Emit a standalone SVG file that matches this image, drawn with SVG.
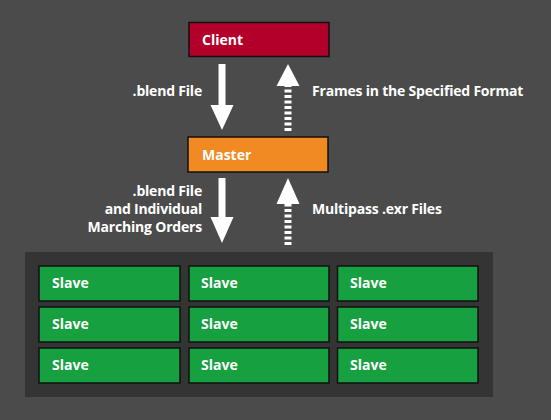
<svg xmlns="http://www.w3.org/2000/svg" width="551" height="420" viewBox="0 0 551 420">
<style>
.lbl{font-family:"Open Sans","Liberation Sans",sans-serif;font-weight:bold;font-size:14px;fill:#ffffff}
.cap{letter-spacing:-0.2px}
.box{stroke:#111111;stroke-width:1.5}
.slave{fill:#17a03f;stroke:#111111;stroke-width:1.5}
.shaft{stroke:#ffffff;stroke-width:7}
.dash{stroke:#ffffff;stroke-width:7;stroke-dasharray:3 2.5}
.head{fill:#ffffff}
</style>
<rect width="551" height="420" fill="#4b4b4b"/>
<g id="connectors">
  <line class="shaft" x1="222" y1="64" x2="222" y2="107"/>
  <polygon class="head" points="210.5,105 233.5,105 222,130"/>
  <line class="dash" x1="288" y1="131" x2="288" y2="84"/>
  <polygon class="head" points="276.5,86 299.5,86 288,64"/>
  <line class="shaft" x1="222" y1="178" x2="222" y2="219"/>
  <polygon class="head" points="210.5,217 233.5,217 222,243"/>
  <line class="dash" x1="288" y1="245" x2="288" y2="202"/>
  <polygon class="head" points="276.5,204 299.5,204 288,178"/>
  <text class="lbl cap" x="202" y="96" text-anchor="end">.blend File</text>
  <text class="lbl cap" x="312" y="96">Frames in the Specified Format</text>
  <text class="lbl cap" x="202" y="196" text-anchor="end">.blend File</text>
  <text class="lbl cap" x="202" y="214" text-anchor="end">and Individual</text>
  <text class="lbl cap" x="202" y="232" text-anchor="end">Marching Orders</text>
  <text class="lbl cap" x="312" y="214">Multipass .exr Files</text>
</g>
<g id="client">
  <rect class="box" x="189" y="22.5" width="140" height="34" fill="#b3002b"/>
  <text class="lbl" x="202" y="45">Client</text>
</g>
<g id="master">
  <rect class="box" x="188" y="137" width="140" height="35" fill="#f18a22"/>
  <text class="lbl" x="202" y="159.5">Master</text>
</g>
<g id="slave-pool">
  <rect x="25" y="252" width="468" height="145" fill="#343434"/>
</g>
<g id="slave-1-1"><rect class="slave" x="39" y="266" width="141" height="35" stroke="#2a4a6a"/><text class="lbl" x="52" y="288">Slave</text></g>
<g id="slave-1-2"><rect class="slave" x="189" y="266" width="140" height="35"/><text class="lbl" x="201" y="288">Slave</text></g>
<g id="slave-1-3"><rect class="slave" x="337.5" y="266" width="140.5" height="35"/><text class="lbl" x="350" y="288">Slave</text></g>
<g id="slave-2-1"><rect class="slave" x="39" y="307" width="141" height="35"/><text class="lbl" x="52" y="329">Slave</text></g>
<g id="slave-2-2"><rect class="slave" x="189" y="307" width="140" height="35"/><text class="lbl" x="201" y="329">Slave</text></g>
<g id="slave-2-3"><rect class="slave" x="337.5" y="307" width="140.5" height="35"/><text class="lbl" x="350" y="329">Slave</text></g>
<g id="slave-3-1"><rect class="slave" x="39" y="348" width="141" height="35"/><text class="lbl" x="52" y="370">Slave</text></g>
<g id="slave-3-2"><rect class="slave" x="189" y="348" width="140" height="35"/><text class="lbl" x="201" y="370">Slave</text></g>
<g id="slave-3-3"><rect class="slave" x="337.5" y="348" width="140.5" height="35"/><text class="lbl" x="350" y="370">Slave</text></g>
</svg>
